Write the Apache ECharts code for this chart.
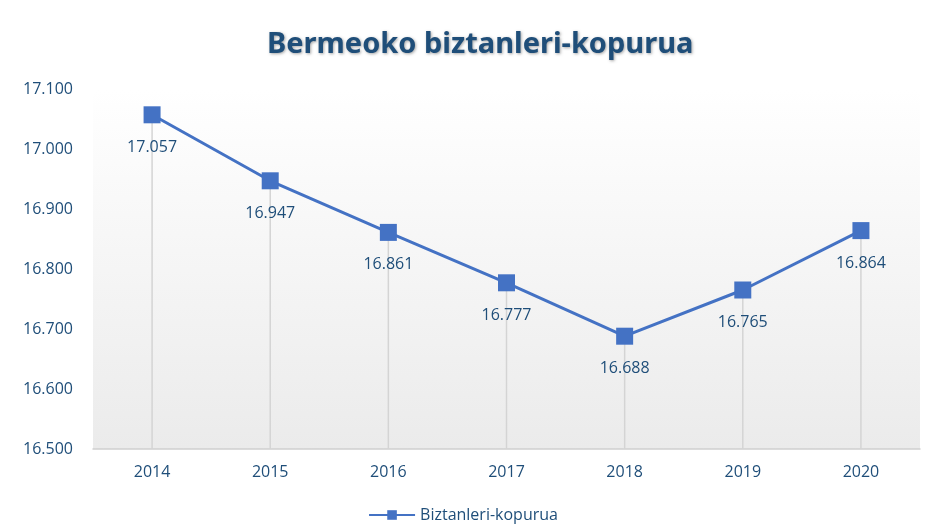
<!DOCTYPE html>
<html><head><meta charset="utf-8">
<script src="https://cdn.jsdelivr.net/npm/echarts@6/dist/echarts.min.js"></script>
<style>html,body{margin:0;padding:0;background:#fff}#c{width:926px;height:531px}</style>
</head><body><div id="c"></div>
<script>
const categories = ['2014','2015','2016','2017','2018','2019','2020'];
const population = [17057, 16947, 16861, 16777, 16688, 16765, 16864];
const seriesName = 'Biztanleri-kopurua';
const titleText = 'Bermeoko biztanleri-kopurua';

function fmt(v){ return String(v).replace(/\B(?=(\d{3})+(?!\d))/g, '.'); }
const txt = '#1F4E79';
const chart = echarts.init(document.getElementById('c'));
chart.setOption({
  backgroundColor: '#fff',
  title: { text: titleText, left: 262, top: 25,
    textStyle: { fontFamily: 'Noto Sans', fontWeight: 'bold', fontSize: 29, color: '#1F4E79',
      textShadowColor: 'rgba(0,0,0,0.35)', textShadowBlur: 3, textShadowOffsetX: 1, textShadowOffsetY: 1 } },
  legend: { bottom: 3, left: 'center', itemWidth: 46, itemHeight: 12,
    data: [seriesName],
    textStyle: { fontFamily: 'Open Sans', fontSize: 16, color: txt } },
  grid: { left: 93, right: 6, top: 89, bottom: 82, show: true, borderWidth: 0,
    backgroundColor: { type: 'linear', x: 0, y: 0, x2: 0, y2: 1,
      colorStops: [{ offset: 0, color: '#ffffff' }, { offset: 1, color: '#ebebeb' }] } },
  xAxis: { type: 'category', data: categories, boundaryGap: true,
    axisLine: { lineStyle: { color: '#d0d0d0', width: 1.5 } }, axisTick: { show: false },
    axisLabel: { fontFamily: 'Open Sans', fontSize: 16, color: txt, margin: 15 } },
  yAxis: { type: 'value', min: 16500, max: 17100, interval: 100,
    axisLine: { show: false }, axisTick: { show: false }, splitLine: { show: false },
    axisLabel: { fontFamily: 'Open Sans', fontSize: 16, color: txt, margin: 20, align: 'right',
      formatter: v => fmt(v) } },
  series: [
    { type: 'bar', data: population, barWidth: 1.5, silent: true, legendHoverLink: false,
      itemStyle: { color: '#d4d4d4' }, z: 1, tooltip: { show: false } },
    { name: seriesName, type: 'line', data: population, symbol: 'rect', symbolSize: 17,
      lineStyle: { color: '#4472C4', width: 3 }, itemStyle: { color: '#4472C4' }, z: 5,
      label: { show: true, position: 'bottom', distance: 16, fontFamily: 'Open Sans', fontSize: 16,
        color: txt, formatter: p => fmt(p.value) } }
  ]
});
</script></body></html>
